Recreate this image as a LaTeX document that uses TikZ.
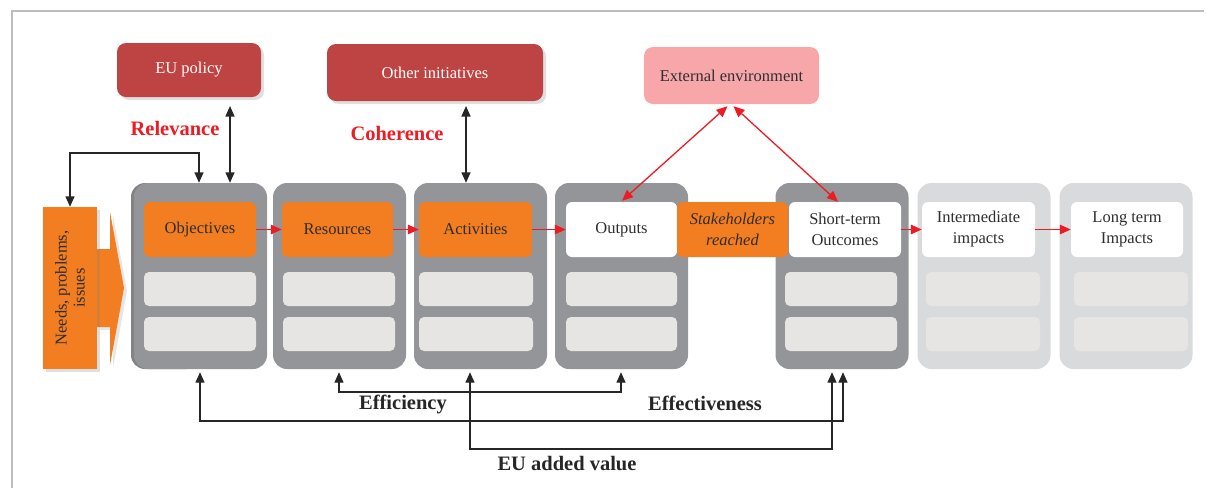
\documentclass[tikz,border=0pt]{standalone}
\usepackage{fontspec}
\setmainfont{Liberation Serif}
\usetikzlibrary{arrows.meta,shadows,calc}
\definecolor{colD}{HTML}{939598}
\definecolor{colDD}{HTML}{828386}
\definecolor{colL}{HTML}{D9DADC}
\definecolor{slot}{HTML}{E6E5E3}
\definecolor{org}{HTML}{F37D21}
\definecolor{dred}{HTML}{BE4343}
\definecolor{envpink}{HTML}{F7A7AA}
\definecolor{ared}{HTML}{ED1C24}
\definecolor{txt}{HTML}{2E2E2E}
\definecolor{framec}{HTML}{BDBDBD}
\newcommand{\bxfont}{\fontsize{16.5}{21}\selectfont}
\newcommand{\lbfont}{\fontsize{20.5}{24}\selectfont\bfseries}
\begin{document}
\begin{tikzpicture}[x=1pt,y=-1pt,
  colbox/.style={rounded corners=14pt, minimum width=133pt, minimum height=186pt, inner sep=0pt},
  darkcol/.style={colbox, fill=colD},
  lightcol/.style={colbox, fill=colL},
  topbox/.style={rounded corners=6pt, minimum height=55pt, inner sep=0pt, align=center, font=\bxfont, text=txt},
  orgbox/.style={topbox, fill=org},
  whitebox/.style={topbox, fill=white},
  slotbox/.style={rounded corners=5pt, minimum height=34pt, inner sep=0pt, fill=slot},
  redbox/.style={rounded corners=9pt, fill=dred, text=white, font=\bxfont, inner sep=0pt,
     drop shadow={shadow xshift=3pt, shadow yshift=-3pt, opacity=0.25}},
  envbox/.style={rounded corners=9pt, fill=envpink, text=txt, font=\bxfont, inner sep=0pt},
  blk/.style={draw=black!85, line width=1.4pt, >={Triangle[length=10.5pt,width=9pt]}},
  rarr/.style={draw=ared, line width=1.3pt, >={Triangle[length=11pt,width=9.5pt]}},
  lbl/.style={font=\lbfont, inner sep=0pt, text=black!85},
  rlbl/.style={lbl, text=ared},
]
\useasboundingbox (0,0) rectangle (1206,488);
% frame
\draw[framec, line width=1.5pt] (12,488) -- (12,11) -- (1204,11);

% top boxes
\node[redbox, minimum width=144pt, minimum height=54pt] (eu) at (189,70) {EU policy};
\node[redbox, minimum width=216pt, minimum height=57pt] (oth) at (435,72.5) {Other initiatives};
\node[envbox, minimum width=175pt, minimum height=57pt] (env) at (731.5,75.5) {External environment};

% needs arrow shape
\fill[org, drop shadow={shadow xshift=3pt, shadow yshift=-3pt, opacity=0.2}]
  (97,249) -- (110,249) -- (110,212) -- (124,288) -- (110,365) -- (110,327) -- (97,327) -- cycle;
\node[fill=org, minimum width=54pt, minimum height=162pt, inner sep=0pt,
  drop shadow={shadow xshift=3pt, shadow yshift=-3pt, opacity=0.25}] (needs) at (70,288) {};
\node[rotate=90, align=center, font=\fontsize{16.5}{18}\selectfont, text=txt] (needstxt) at (needs.center) {Needs, problems,\\issues};

% columns
\fill[colDD, rounded corners=14pt] (131,183) rectangle (200,369);
\node[darkcol] (c1) at (200.5,276) {};
\node[darkcol] (c2) at (339.5,276) {};
\node[darkcol] (c3) at (480.5,276) {};
\node[darkcol] (c4) at (621.5,276) {};
\node[darkcol] (c5) at (842,276) {};
\node[lightcol] (c6) at (984,276) {};
\node[lightcol] (c7) at (1126,276) {};

% top inner boxes
\node[orgbox, minimum width=112pt] (obj) at (200,229.5) {Objectives};
\node[orgbox, minimum width=111pt] (res) at (337.5,229.5) {Resources};
\node[orgbox, minimum width=113pt] (act) at (475.5,229.5) {Activities};
\node[whitebox, minimum width=111pt] (outp) at (621.5,229.5) {Outputs};
\node[whitebox, minimum width=112pt] (st) at (845,229.5) {Short-term\\Outcomes};
\node[whitebox, minimum width=113pt] (im) at (978.5,229.5) {Intermediate\\impacts};
\node[whitebox, minimum width=112pt] (lt) at (1127,229.5) {Long term\\Impacts};
\node[orgbox, minimum width=111pt, font=\bxfont\itshape] (sh) at (732.5,229.5) {Stakeholders\\reached};

% slots
\foreach \n/\x/\w in {1/200/112, 2/339/112, 3/476/114, 4/621.5/111, 5/841/112, 6/983/114, 7/1131/114}{
  \node[slotbox, minimum width=\w pt] (s\n a) at (\x,289) {};
  \node[slotbox, minimum width=\w pt] (s\n b) at (\x,334) {};
}

% red horizontal arrows
\draw[rarr,->] (obj.east) -- (res.west);
\draw[rarr,->] (res.east) -- (act.west);
\draw[rarr,->] (act.east) -- (outp.west);
\draw[rarr,->] (st.east) -- (im.west);
\draw[rarr,->] (im.east) -- (lt.west);

% external environment arrows
\draw[rarr,<->] ($(env.south)+(-4,2)$) -- ($(outp.north)+(0.5,-1)$);
\draw[rarr,<->] ($(env.south)+(2,2)$) -- ($(st.north)+(-7,0)$);

% relevance / coherence
\coordinate (rv) at (230,106);
\draw[blk,<->] (rv) -- (rv |- c1.north);
\coordinate (ch) at (466,106);
\draw[blk,<->] (ch) -- (ch |- c3.north);
\node[rlbl] (relevance) at (175,128) {Relevance};
\node[rlbl] (coherence) at (397,133) {Coherence};

% loop needs <-> objectives
\coordinate (l1) at (70,153);
\coordinate (l2) at (199,153);
\draw[blk,<->] (needs.north) -- (l1) -- (l2) -- (l2 |- c1.north);

% bottom arrows
\coordinate (e1) at (339,392);
\coordinate (e2) at (621,392);
\draw[blk,<->, shorten <=3pt, shorten >=3pt] (e1 |- c2.south) -- (e1) -- (e2) -- (e2 |- c4.south);
\coordinate (f1) at (200,421);
\coordinate (f2) at (843,421);
\draw[blk,<->, shorten <=3pt, shorten >=3pt] (f1 |- c1.south) -- (f1) -- (f2) -- (f2 |- c5.south);
\coordinate (g1) at (470,449);
\coordinate (g2) at (832,449);
\draw[blk,<->, shorten <=3pt, shorten >=3pt] (g1 |- c3.south) -- (g1) -- (g2) -- (g2 |- c5.south);

\node[lbl] (effic) at (403,404) {Efficiency};
\node[lbl] (effect) at (705,403) {Effectiveness};
\node[lbl] (euav) at (567,464) {EU added value};
\end{tikzpicture}
\end{document}
